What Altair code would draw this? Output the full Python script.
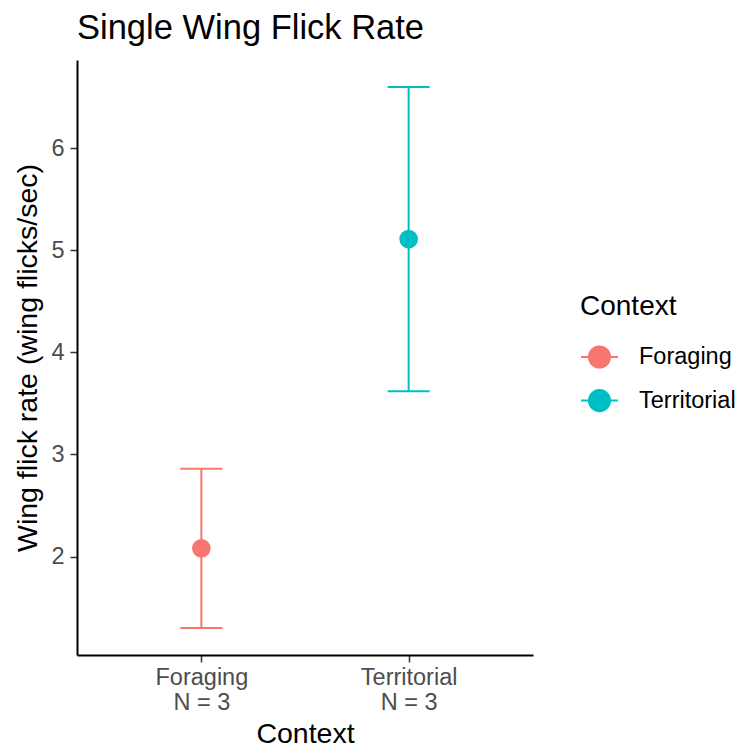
import altair as alt
import pandas as pd

# Summary of single wing flick rate per context (mean with interval)
contexts = ["Foraging", "Territorial"]
sample_sizes = [3, 3]
mean_rate = [2.08, 5.11]
lower_rate = [1.30, 3.62]
upper_rate = [2.86, 6.60]
palette = ["#F8766D", "#00BFC4"]
y_ticks = [2, 3, 4, 5, 6]

df = pd.DataFrame({
    "Context": contexts,
    "label": [f"{c}\nN = {n}" for c, n in zip(contexts, sample_sizes)],
    "mean": mean_rate,
    "lower": lower_rate,
    "upper": upper_rate,
})

FONT = "Liberation Sans"
Y_TITLE = "Wing flick rate (wing flicks/sec)"

x_enc = alt.X(
    "label:N",
    sort=None,
    title="Context",
    scale=alt.Scale(type="point", padding=0.6),
    axis=alt.Axis(labelExpr="split(datum.label, '\\n')", labelAngle=0,
                  labelLineHeight=25, labelPadding=3, titlePadding=6),
)
y_scale = alt.Scale(domain=[1.035, 6.865], nice=False, zero=False)
color_scale = alt.Scale(domain=contexts, range=palette)

base = alt.Chart(df)

# Mean points carry the legend (line-through-dot key)
points = base.mark_circle(size=346, opacity=1).encode(
    x=x_enc,
    y=alt.Y("mean:Q", scale=y_scale, title=Y_TITLE,
            axis=alt.Axis(values=y_ticks, format="d", labelPadding=6, titlePadding=8)),
    color=alt.Color(
        "Context:N",
        scale=color_scale,
        legend=alt.Legend(
            title="Context",
            orient="none",
            legendX=503,
            legendY=233,
            padding=0,
            symbolType="M-1,0L1,0M0.57,0A0.57,0.57,0,1,1,-0.57,0A0.57,0.57,0,1,1,0.57,0Z",
            symbolSize=1369,
            symbolStrokeWidth=2,
            symbolStrokeColor=alt.ExprRef("scale('color', datum.value)"),
            symbolOpacity=1,
            labelOffset=20,
            rowPadding=8.6,
            titlePadding=16.5,
        ),
    ),
)

bars = base.mark_rule(strokeWidth=2).encode(
    x=x_enc,
    y=alt.Y("lower:Q", scale=y_scale, title=Y_TITLE),
    y2="upper:Q",
    color=alt.Color("Context:N", scale=color_scale, legend=None),
)

cap_low = base.mark_tick(size=42, thickness=2, orient="horizontal", opacity=1).encode(
    x=x_enc,
    y=alt.Y("lower:Q", scale=y_scale, title=Y_TITLE),
    color=alt.Color("Context:N", scale=color_scale, legend=None),
)
cap_high = base.mark_tick(size=42, thickness=2, orient="horizontal", opacity=1).encode(
    x=x_enc,
    y=alt.Y("upper:Q", scale=y_scale, title=Y_TITLE),
    color=alt.Color("Context:N", scale=color_scale, legend=None),
)

chart = (
    alt.layer(points, bars, cap_low, cap_high)
    .properties(
        width=456,
        height=595,
        title=alt.TitleParams(
            "Single Wing Flick Rate", anchor="start", frame="group",
            font=FONT, fontSize=34.5, fontWeight="normal", color="black", offset=14,
        ),
        autosize=alt.AutoSizeParams(type="none"),
        padding={"left": 77, "top": 60, "right": 208, "bottom": 96},
    )
    .configure_view(stroke=None)
    .configure_axis(
        grid=False,
        domainColor="black",
        domainWidth=2,
        tickColor="#333333",
        tickWidth=1.5,
        tickSize=7,
        labelFont=FONT,
        labelFontSize=23.5,
        labelColor="#4D4D4D",
        titleFont=FONT,
        titleFontSize=28.5,
        titleFontWeight="normal",
        titleColor="black",
    )
    .configure_legend(
        titleFont=FONT,
        titleFontSize=28,
        titleFontWeight="normal",
        titleColor="black",
        labelFont=FONT,
        labelFontSize=23.5,
        labelColor="black",
    )
)

chart.save("out.html", embed_options={"renderer": "svg", "actions": False})
